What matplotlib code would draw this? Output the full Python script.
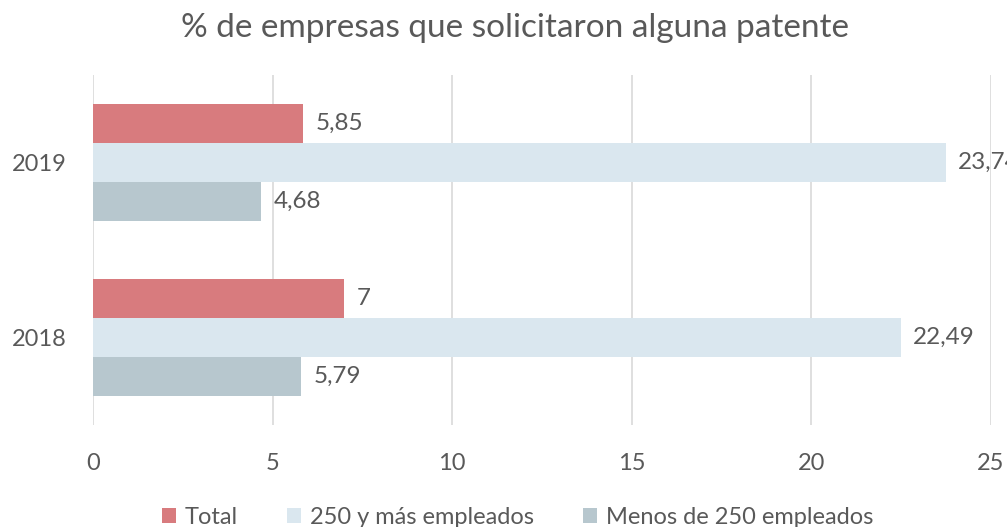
import matplotlib
matplotlib.use('Agg')
import matplotlib.pyplot as plt
import numpy as np

# data
years = ['2018', '2019']
total = [7, 5.85]
grandes = [22.49, 23.74]
pymes = [5.79, 4.68]
series_names = ['Total', '250 y más empleados', 'Menos de 250 empleados']
colors = ['#D87B7E', '#DAE7EF', '#B7C7CE']

plt.rcParams['font.family'] = ['Lato', 'DejaVu Sans']
text_color = '#595959'

fig = plt.figure(figsize=(10.07, 5.27), dpi=100)
ax = fig.add_axes([0.0924, 0.1935, 0.8916, 0.6645])

y = np.arange(len(years))
h = 0.6667 / 3

series = [total, grandes, pymes]
offsets = [h, 0, -h]
for vals, off, col, name in zip(series, offsets, colors, series_names):
    bars = ax.barh(y + off, vals, height=h, color=col, label=name, zorder=2)
    for bar, v in zip(bars, vals):
        label = f'{v:g}'.replace('.', ',')
        ax.text(bar.get_width() + 0.35, bar.get_y() + bar.get_height() / 2, label,
                ha='left', va='center', fontsize=17.5, color=text_color, clip_on=False)

ax.set_xlim(0, 25)
ax.set_ylim(-0.5, 1.5)
ax.set_xticks(np.arange(0, 26, 5))
ax.set_yticks(y)
ax.set_yticklabels(years)
ax.tick_params(axis='both', length=0, labelsize=17, labelcolor=text_color)
ax.tick_params(axis='x', pad=20)
ax.tick_params(axis='y', pad=19)
ax.grid(axis='x', color='#D9D9D9', linewidth=1.2, zorder=0)
for s in ax.spines.values():
    s.set_visible(False)

fig.suptitle('% de empresas que solicitaron alguna patente', x=0.511, y=0.975,
             fontsize=24, color=text_color)

fig.legend(loc='lower center', ncol=3, frameon=False, fontsize=17,
           labelcolor=text_color, handlelength=0.6, handleheight=0.6,
           handletextpad=0.35, columnspacing=2.1, bbox_to_anchor=(0.514, -0.042))

fig.savefig('out.png', dpi=100)
